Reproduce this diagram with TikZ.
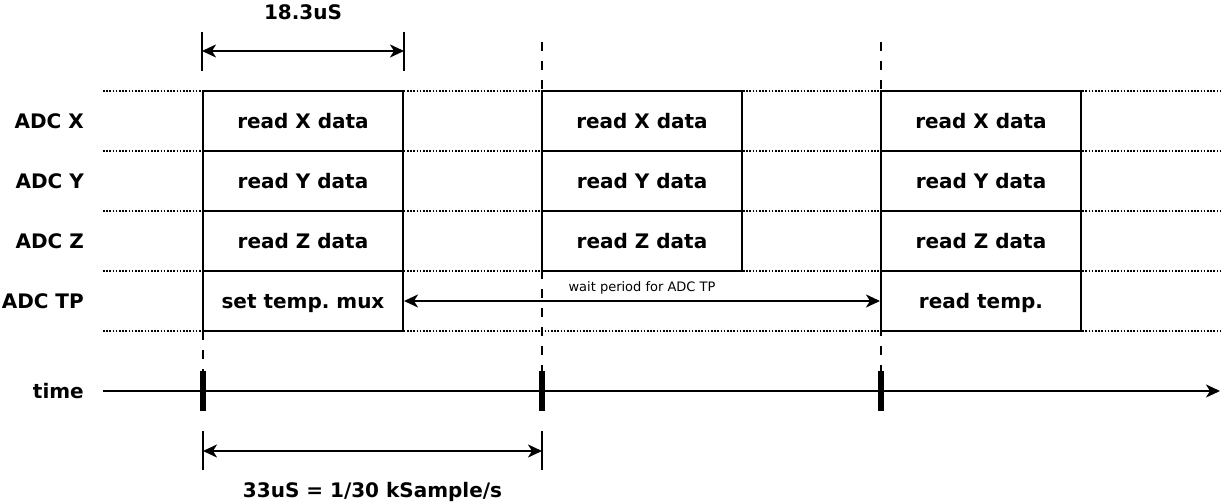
\documentclass[tikz,border=0pt]{standalone}
\usepackage{fontspec}
\setmainfont{DejaVu Sans}
\usetikzlibrary{arrows.meta}

\begin{document}
\begin{tikzpicture}[x=1pt,y=1pt,>={Stealth[length=14pt,width=13pt,inset=4pt]},
    font=\fontsize{20}{24}\selectfont\bfseries]
    \tikzstyle{slot}=[draw,line width=2pt,fill=white,minimum width=200pt,minimum height=60pt,inner sep=0pt,text height=14.6pt,text depth=0pt]
    \tikzstyle{annot}=[inner sep=0pt,text height=14.6pt,text depth=0pt]
    \tikzstyle{small annot}=[inner sep=0pt,text height=9.5pt,text depth=0pt,font=\fontsize{13}{15}\selectfont\mdseries]
    \tikzstyle{lane}=[line width=1.8pt,dash pattern=on 1.6pt off 1.6pt]
    \tikzstyle{marker}=[line width=1.8pt,dash pattern=on 9pt off 10pt]
    \tikzstyle{tick}=[line width=5.5pt]
    \tikzstyle{limit}=[line width=1.8pt]
    \tikzstyle{span}=[<->,line width=2pt]

    \useasboundingbox (0,0) rectangle (1225,503);

    % Draw the lane separators
    \foreach \y in {412,352,292,232,172}
        \draw[lane] (103,\y) -- (1220,\y);

    % Draw the row labels
    \foreach \name / \y / \txt in {X/382/ADC X,Y/322/ADC Y,Z/262/ADC Z,TP/202/ADC TP,T/112/time}
        \node[annot,anchor=east] (L-\name) at (84,\y) {\txt};

    % Sample instants on the time axis
    \foreach \name / \x in {1/203,2/542,3/881}
        \coordinate (S-\name) at (\x,112);
    \coordinate (M-1) at (203,172);
    \coordinate (M-2) at (542,461);
    \coordinate (M-3) at (881,461);
    \foreach \name in {1,2,3}
        \draw[marker] (M-\name) -- (S-\name);

    % Draw the conversion slots
    \foreach \col / \x in {1/303,2/642,3/981}
        \foreach \name / \y in {X/382,Y/322,Z/262}
            \node[slot] (\name-\col) at (\x,\y) {read \name\ data};
    \node[slot] (TP-1) at (303,202) {set temp.\ mux};
    \node[slot] (TP-3) at (981,202) {read temp.};

    % Wait for the temperature channel
    \draw[span] (TP-1.east) -- node[small annot,midway,yshift=14pt] {wait period for ADC TP} (TP-3.west);

    % Draw the time axis
    \coordinate (T-start) at (103,112);
    \coordinate (T-end) at (1220,112);
    \draw[->,line width=2pt] (T-start) -- (T-end);
    \foreach \name in {1,2,3}
        \draw[tick] ([yshift=20pt]S-\name) -- ([yshift=-20pt]S-\name);

    % Annotate the conversion time
    \draw[limit] ([yshift=19pt]X-1.north west) -- ([yshift=58pt]X-1.north west);
    \draw[limit] ([yshift=19pt]X-1.north east) -- ([yshift=58pt]X-1.north east);
    \draw[span] ([yshift=39pt]X-1.north west) -- ([yshift=39pt]X-1.north east)
        node[annot,midway,yshift=39pt] {18.3uS};

    % Annotate the sample period
    \draw[limit] ([yshift=-40pt]S-1) -- ([yshift=-79pt]S-1);
    \draw[limit] ([yshift=-40pt]S-2) -- ([yshift=-79pt]S-2);
    \draw[span] ([yshift=-60pt]S-1) -- ([yshift=-60pt]S-2)
        node[annot,midway,yshift=-39pt] {33uS = 1/30 kSample/s};
\end{tikzpicture}
\end{document}
